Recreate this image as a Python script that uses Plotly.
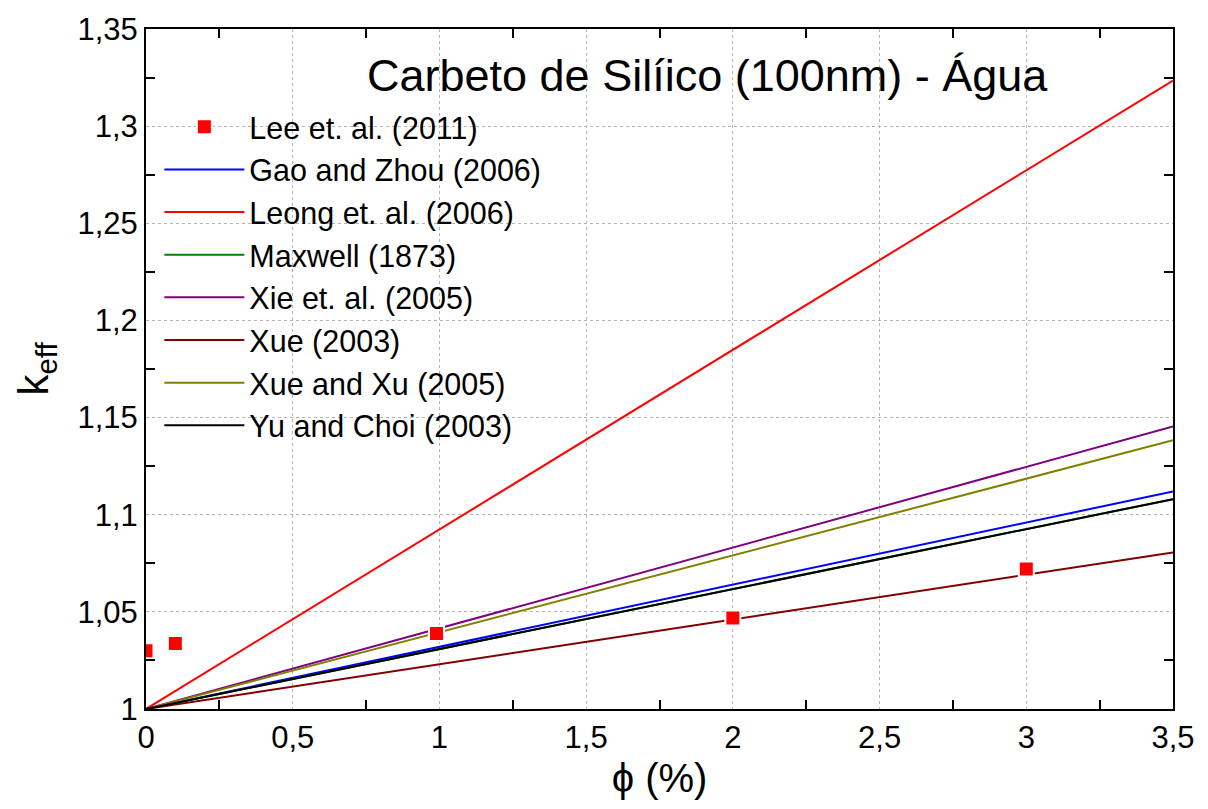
import plotly.graph_objects as go

# Volume fraction (%) and measured effective conductivity (Lee et al., 2011)
phi_exp = [0.0, 0.1, 0.99, 2.0, 3.0]
k_exp = [1.030, 1.0337, 1.0388, 1.0469, 1.072]

# Model curves evaluated over the plotted range
phi_model = [0.0, 3.5]
k_gao_zhou = [1.0, 1.112]
k_leong = [1.0, 1.3235]
k_maxwell = [1.0, 1.108]
k_xie = [1.0, 1.1454]
k_xue = [1.0, 1.0806]
k_xue_xu = [1.0, 1.1383]
k_yu_choi = [1.0, 1.108]

# Tick positions
x_major = [0, 0.5, 1, 1.5, 2, 2.5, 3, 3.5]
x_minor = [0.25, 0.75, 1.25, 1.75, 2.25, 2.75, 3.25]
y_major = [1.0, 1.05, 1.1, 1.15, 1.2, 1.25, 1.3, 1.35]
y_minor = [1.025, 1.075, 1.125, 1.175, 1.225, 1.275, 1.325]

models = [
    ("Gao and Zhou (2006)", k_gao_zhou, "#0000FF"),
    ("Leong et. al. (2006)", k_leong, "#FF0000"),
    ("Maxwell (1873)", k_maxwell, "#008000"),
    ("Xie et. al. (2005)", k_xie, "#800080"),
    ("Xue (2003)", k_xue, "#800000"),
    ("Xue and Xu (2005)", k_xue_xu, "#808000"),
    ("Yu and Choi (2003)", k_yu_choi, "#000000"),
]

FONT = "Liberation Sans, Arial"

fig = go.Figure()
for i, (name, kv, color) in enumerate(models):
    fig.add_trace(go.Scatter(
        x=phi_model, y=kv, mode="lines", name=name,
        line=dict(color=color, width=2),
        legendgroup=name, legendrank=10 + i,
    ))

fig.add_trace(go.Scatter(
    x=phi_exp, y=k_exp, mode="markers", name="Lee et. al. (2011)",
    marker=dict(symbol="square", size=15, color="#FF0000",
                line=dict(color="white", width=2)),
    legendgroup="lee", legendrank=1,
))

# invisible trace that anchors the overlaid tick-mark axes
fig.add_trace(go.Scatter(
    x=[0, 3.5], y=[1.0, 1.35], xaxis="x2", yaxis="y2", mode="markers",
    marker=dict(opacity=0), showlegend=False, hoverinfo="skip",
))

major_common = dict(
    showline=True, linecolor="black", linewidth=2, mirror=True,
    ticks="", showgrid=True, gridcolor="#b4b4b4", griddash="dot",
    gridwidth=1, zeroline=False,
    tickfont=dict(family=FONT, size=31, color="black"),
)
minor_common = dict(
    showline=False, mirror="ticks", ticks="inside", ticklen=9,
    tickwidth=2, tickcolor="black", showgrid=False,
    zeroline=False, showticklabels=False,
)

fig.update_layout(
    width=1208, height=809,
    paper_bgcolor="white", plot_bgcolor="white",
    margin=dict(l=146, r=35, t=23, b=100),
    separators=",.",
    showlegend=True,
    legend=dict(
        x=0.013, y=0.895, xanchor="left", yanchor="top",
        bgcolor="rgba(0,0,0,0)", borderwidth=0,
        font=dict(family=FONT, size=30.5, color="black"),
        traceorder="grouped", tracegroupgap=0, itemwidth=80,
    ),
    xaxis=dict(
        range=[0, 3.5], tickvals=x_major,
        title=dict(text="\u03d5 (%)", standoff=10,
                   font=dict(family=FONT, size=40, color="black")),
        **major_common,
    ),
    yaxis=dict(
        range=[1.0, 1.35], tickvals=y_major,
        title=dict(text="k<sub>eff</sub>", standoff=16,
                   font=dict(family=FONT, size=42, color="black")),
        **major_common,
    ),
    xaxis2=dict(range=[0, 3.5], tickvals=x_minor, overlaying="x",
                anchor="y2", **minor_common),
    yaxis2=dict(range=[1.0, 1.35], tickvals=y_minor, overlaying="y",
                anchor="x2", **minor_common),
    annotations=[dict(
        text="Carbeto de Silíico (100nm) - Água",
        xref="paper", yref="paper", x=0.547, y=0.932,
        xanchor="center", yanchor="middle", showarrow=False,
        font=dict(family=FONT, size=45, color="black"),
    )],
)

fig.write_html("out.html")
